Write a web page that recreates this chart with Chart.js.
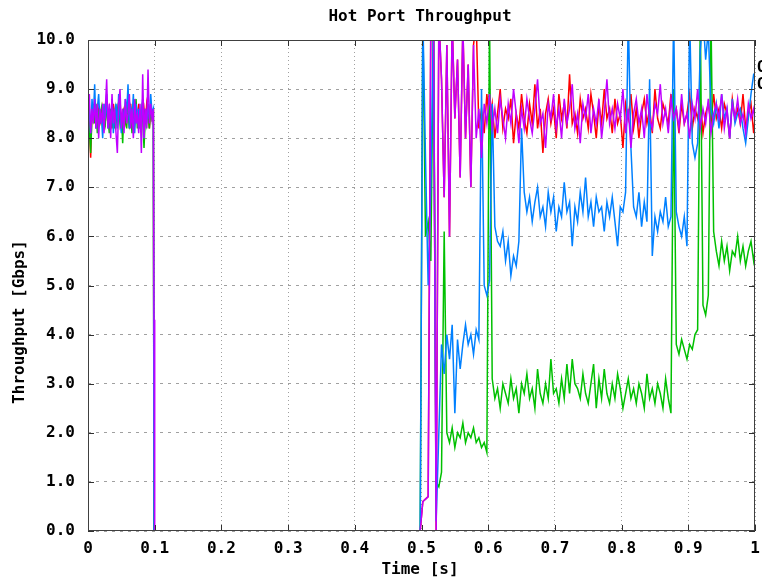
<!DOCTYPE html>
<html>
<head>
<meta charset="utf-8">
<title>Hot Port Throughput</title>
<script src="https://cdn.jsdelivr.net/npm/chart.js@4/dist/chart.umd.min.js"></script>
<style>
  html, body { margin: 0; padding: 0; background: #ffffff; }
  canvas { display: block; }
</style>
</head>
<body>
<canvas id="hot-port-chart" width="762" height="579"></canvas>
<script>
// Hot Port Throughput - gnuplot 스타일 재현

// 구간 A: 0 ~ 0.1 s
const timeA = [
    0, 0.002, 0.004, 0.006, 0.008, 0.010, 0.012, 0.014, 0.016, 0.018,
    0.020, 0.022, 0.024, 0.026, 0.028, 0.030, 0.032, 0.034, 0.036, 0.038,
    0.040, 0.042, 0.044, 0.046, 0.048, 0.050, 0.052, 0.054, 0.056, 0.058,
    0.060, 0.062, 0.064, 0.066, 0.068, 0.070, 0.072, 0.074, 0.076, 0.078,
    0.080, 0.082, 0.084, 0.086, 0.088, 0.090, 0.092, 0.094, 0.096, 0.098,
    0.099, 0.100
];

// 구간 B: 0.5 ~ 1.0 s
const timeB = [
    0.498, 0.502, 0.506, 0.510, 0.514, 0.518, 0.522, 0.526, 0.530, 0.534,
    0.538, 0.542, 0.546, 0.550, 0.554, 0.558, 0.562, 0.566, 0.570, 0.574,
    0.578, 0.582, 0.586, 0.590, 0.594, 0.598, 0.602, 0.606, 0.610, 0.614,
    0.618, 0.622, 0.626, 0.630, 0.634, 0.638, 0.642, 0.646, 0.650, 0.654,
    0.658, 0.662, 0.666, 0.670, 0.674, 0.678, 0.682, 0.686, 0.690, 0.694,
    0.698, 0.702, 0.706, 0.710, 0.714, 0.718, 0.722, 0.726, 0.730, 0.734,
    0.738, 0.742, 0.746, 0.750, 0.754, 0.758, 0.762, 0.766, 0.770, 0.774,
    0.778, 0.782, 0.786, 0.790, 0.794, 0.798, 0.802, 0.806, 0.810, 0.814,
    0.818, 0.822, 0.826, 0.830, 0.834, 0.838, 0.842, 0.846, 0.850, 0.854,
    0.858, 0.862, 0.866, 0.870, 0.874, 0.878, 0.882, 0.886, 0.890, 0.894,
    0.898, 0.902, 0.906, 0.910, 0.914, 0.918, 0.922, 0.926, 0.930, 0.934,
    0.938, 0.942, 0.946, 0.950, 0.954, 0.958, 0.962, 0.966, 0.970, 0.974,
    0.978, 0.982, 0.986, 0.990, 0.994, 0.998, 1.000
];

const redA = [
    8.5, 8.3, 7.6, 8.6, 8.4, 8.7, 8.2, 8.5, 8.6, 8.3,
    8.4, 8.6, 8.2, 8.7, 8.5, 8.3, 8.6, 8.4, 8.2, 8.7,
    8.5, 8.3, 8.6, 8.4, 8.8, 8.2, 8.5, 8.6, 8.3, 8.4,
    8.6, 8.2, 8.7, 8.4, 8.5, 8.3, 8.6, 8.4, 8.7, 8.2,
    8.5, 8.4, 8.6, 8.3, 8.7, 8.5, 8.2, 8.6, 8.4, 8.5,
    0, 0
];
const greenA = [
    8.4, 8.2, 7.7, 8.5, 8.6, 8.3, 8.7, 8.1, 8.5, 8.4,
    8.6, 8.2, 8.5, 8.3, 8.7, 8.4, 8.1, 8.6, 8.3, 8.5,
    8.2, 8.6, 8.4, 8.7, 8.3, 8.5, 7.9, 8.6, 8.4, 8.2,
    8.7, 8.3, 8.5, 8.1, 8.6, 8.4, 8.8, 8.2, 8.5, 8.3,
    8.6, 8.4, 7.8, 8.5, 8.3, 8.7, 8.2, 8.6, 8.4, 8.5,
    0, 0
];
const blueA = [
    8.3, 8.6, 8.1, 8.8, 8.4, 9.1, 8.2, 8.6, 8.9, 8.3,
    8.5, 8.0, 8.7, 8.4, 8.9, 8.2, 8.6, 8.3, 8.8, 8.1,
    8.5, 8.7, 8.2, 8.9, 8.4, 8.1, 8.6, 8.3, 8.8, 8.5,
    9.1, 8.2, 8.6, 8.4, 8.9, 8.1, 8.7, 8.3, 8.6, 8.2,
    8.5, 8.8, 8.0, 8.6, 8.3, 8.7, 8.4, 8.9, 8.5, 8.6,
    0, 0
];
const magentaA = [
    8.5, 8.9, 8.1, 8.6, 8.3, 8.8, 8.2, 8.7, 8.0, 8.6,
    8.3, 8.7, 8.1, 8.6, 9.2, 8.2, 8.7, 8.0, 8.9, 8.3,
    8.6, 8.1, 7.7, 8.7, 9.0, 8.2, 8.6, 8.1, 8.8, 8.3,
    8.5, 8.9, 8.2, 8.6, 8.0, 8.8, 8.3, 8.5, 8.1, 8.7,
    7.7, 9.3, 8.0, 8.6, 8.2, 9.4, 8.3, 8.7, 8.4, 8.6,
    4.3, 0
];

const redB = [
    0, 0.6, 0.65, 0.7, 10.5, 10.5, 0, 10.5, 9.2, 6.8,
    9.9, 6.0, 10.4, 8.4, 9.6, 7.2, 10.3, 8.0, 9.5, 7.0,
    9.9, 10.4, 8.2, 8.6, 8.1, 8.9, 8.3, 8.7, 8.0, 8.5,
    9.0, 8.2, 8.6, 8.4, 8.8, 7.9, 8.5, 8.2, 8.9, 8.4,
    8.1, 8.7, 8.3, 9.1, 8.2, 8.6, 7.7, 8.5, 8.8, 8.3,
    8.6, 8.0, 8.9, 8.4, 8.7, 8.2, 9.3, 8.3, 8.5, 8.1,
    8.8, 8.4, 8.6, 8.2, 8.9, 8.5, 8.0, 8.7, 8.3, 9.0,
    8.4, 8.6, 8.1, 8.8, 8.3, 8.5, 7.8, 8.7, 8.4, 8.9,
    8.2, 8.6, 8.0, 8.5, 8.8, 8.3, 8.6, 8.1, 9.0, 8.4,
    8.2, 8.7, 8.5, 8.3, 8.9, 8.4, 8.6, 8.1, 8.7, 8.3,
    8.5, 8.9, 8.2, 8.6, 8.4, 8.8, 8.1, 8.5, 8.7, 8.3,
    8.9, 8.4, 8.6, 8.2, 8.7, 8.5, 8.0, 8.8, 8.4, 8.6,
    8.3, 8.9, 8.2, 8.5, 8.7, 8.1, 8.4
];
const greenB = [
    0, 10.5, 6.0, 6.3, 5.5, 10.5, 1.0, 0.9, 1.2, 6.1,
    2.0, 1.8, 2.1, 1.7, 2.0, 1.9, 2.2, 1.8, 2.0, 1.9,
    2.1, 1.8, 1.9, 1.7, 1.8, 1.6, 10.5, 3.1, 2.7, 2.9,
    2.5, 3.0, 2.8, 2.6, 3.1, 2.7, 2.9, 2.4, 3.0, 2.8,
    3.2, 2.7, 2.9, 2.5, 3.3, 2.8, 2.6, 3.0, 2.7, 3.5,
    2.8, 2.9, 2.6, 3.1, 2.7, 3.4, 2.8, 3.5, 3.0, 2.9,
    2.7, 3.2, 2.8, 2.6, 3.0, 3.4, 2.5, 3.1, 2.7, 3.3,
    2.8, 2.6, 3.0, 2.7, 3.2, 2.9, 2.5, 2.8, 3.1, 2.7,
    2.9, 2.6, 3.0, 2.8, 2.5, 3.2, 2.7, 2.9, 2.6, 3.0,
    2.8, 2.5, 3.1, 2.7, 2.4, 9.0, 3.8, 3.6, 3.9, 3.7,
    3.5, 3.8, 3.7, 4.0, 4.1, 10.5, 4.6, 4.4, 4.8, 10.5,
    6.1, 5.7, 5.4, 5.9, 5.5, 5.8, 5.3, 5.7, 5.6, 6.0,
    5.5, 5.8, 5.4, 5.7, 5.9, 5.5, 5.7
];
const blueB = [
    0, 10.5, 7.6, 5.0, 7.0, 10.5, 0.2, 2.0, 3.8, 3.2,
    4.0, 3.5, 4.2, 2.4, 3.9, 3.3, 3.8, 4.2, 3.8, 4.0,
    3.6, 4.1, 3.9, 9.0, 5.0, 4.8, 5.1, 8.7, 6.2, 5.9,
    5.8, 6.1, 5.5, 5.9, 5.2, 5.6, 5.4, 5.9, 8.2, 6.9,
    6.5, 6.8, 6.3, 6.7, 7.0, 6.4, 6.6, 6.2, 6.9, 6.5,
    6.8, 6.1, 6.6, 6.4, 7.1, 6.5, 6.7, 5.8, 6.6, 6.3,
    6.9, 6.5, 7.2, 6.4, 6.7, 6.2, 6.8, 6.5, 6.6, 6.1,
    6.7, 6.4, 6.8, 6.3, 5.8, 6.6, 6.5, 6.9, 10.5, 7.8,
    6.6, 6.4, 6.9, 6.2, 6.7, 6.3, 9.2, 5.6, 6.4, 6.1,
    6.5, 6.3, 6.8, 6.2, 6.4, 10.5, 6.5, 6.2, 6.0, 6.4,
    5.8, 10.5, 7.9, 7.6, 7.9, 9.8, 10.5, 9.6, 10.2, 8.6,
    8.3, 8.7, 8.2, 8.9, 8.4, 8.6, 8.0, 8.8, 8.3, 8.5,
    8.6, 8.2, 7.9, 8.4, 8.9, 9.3, 9.3
];
const magentaB = [
    0, 0.6, 0.65, 0.7, 10.5, 10.5, 0, 10.5, 9.2, 6.8,
    9.9, 6.0, 10.4, 8.4, 9.6, 7.2, 10.3, 8.0, 9.5, 7.0,
    9.9, 8.0, 8.6, 7.6, 8.7, 8.3, 8.9, 8.2, 8.6, 8.1,
    8.8, 8.4, 8.0, 8.7, 8.3, 9.0, 8.5, 7.9, 8.6, 8.2,
    8.8, 8.4, 8.1, 8.6, 9.2, 8.3, 8.5, 7.8, 8.7, 8.4,
    8.9, 8.2, 8.6, 8.0, 8.8, 8.3, 8.6, 9.1, 8.2, 8.5,
    7.9, 8.7, 8.4, 8.9, 8.1, 8.6, 8.3, 8.8, 8.0, 8.5,
    9.2, 8.3, 8.6, 8.2, 8.7, 8.4, 9.0, 8.1, 8.6, 7.8,
    8.5, 8.8, 8.3, 8.6, 8.0, 8.9, 8.4, 8.2, 8.7, 8.5,
    9.1, 8.3, 8.6, 8.1, 8.8, 8.4, 8.6, 8.2, 8.9, 8.3,
    8.5, 8.0, 8.7, 8.4, 9.0, 8.2, 8.6, 8.3, 8.8, 8.1,
    8.5, 8.7, 8.4, 8.9, 8.2, 8.6, 8.0, 8.7, 8.4, 8.8,
    8.3, 8.5, 8.1, 8.7, 8.4, 8.6, 8.3
];

const seriesLabels = ['Q1', 'Q2', 'Q3', 'Q4'];
const keyLabels = ['Q1', 'Q2'];
const xTicks = [0, 0.1, 0.2, 0.3, 0.4, 0.5, 0.6, 0.7, 0.8, 0.9, 1];
const yTicks = [0, 1, 2, 3, 4, 5, 6, 7, 8, 9, 10];

const FONT = '"DejaVu Sans Mono", "Liberation Mono", monospace';

// 두 구간을 null 로 끊어서 하나의 시리즈로 합침
function buildSeries(partA, partB) {
    const points = timeA.map((t, i) => ({ x: t, y: partA[i] }));
    points.push({ x: 0.3, y: null });
    timeB.forEach((t, i) => points.push({ x: t, y: partB[i] }));
    return points;
}

function makeDataset(label, values, color, order) {
    return {
        label: label,
        data: values,
        borderColor: color,
        backgroundColor: color,
        borderWidth: 1.5,
        pointRadius: 0,
        pointHoverRadius: 0,
        tension: 0,
        fill: false,
        spanGaps: false,
        order: order
    };
}

// 테두리, 안쪽 눈금, 제목, 축 제목, 범례
const gnuplotFrame = {
    id: 'gnuplotFrame',
    afterDatasetsDraw(chart) {
        const { ctx, chartArea: a, scales } = chart;
        const xs = scales.x;
        const ys = scales.y;
        ctx.save();
        ctx.strokeStyle = '#303030';
        ctx.lineWidth = 1;
        ctx.beginPath();
        xTicks.forEach(v => {
            const px = Math.round(xs.getPixelForValue(v)) + 0.5;
            ctx.moveTo(px, a.bottom);
            ctx.lineTo(px, a.bottom - 6);
            ctx.moveTo(px, a.top);
            ctx.lineTo(px, a.top + 6);
        });
        yTicks.forEach(v => {
            const py = Math.round(ys.getPixelForValue(v)) + 0.5;
            ctx.moveTo(a.left, py);
            ctx.lineTo(a.left + 6, py);
            ctx.moveTo(a.right, py);
            ctx.lineTo(a.right - 6, py);
        });
        ctx.stroke();
        ctx.strokeStyle = '#404040';
        ctx.strokeRect(a.left + 0.5, a.top + 0.5, a.right - a.left - 1, a.bottom - a.top - 1);

        ctx.fillStyle = '#000000';
        ctx.font = 'bold 16px ' + FONT;
        ctx.textAlign = 'center';
        ctx.textBaseline = 'middle';
        ctx.fillText('Hot Port Throughput', 420, 17);
        ctx.fillText('Time [s]', 420, 570);

        ctx.save();
        ctx.translate(20, 322);
        ctx.rotate(-Math.PI / 2);
        ctx.fillText('Throughput [Gbps]', 0, 0);
        ctx.restore();

        // 오른쪽 밖으로 잘린 범례
        ctx.textAlign = 'left';
        keyLabels.forEach((label, i) => {
            ctx.fillText(label, a.right + 2, 68 + i * 17);
        });
        ctx.restore();
    }
};

const chart = new Chart(document.getElementById('hot-port-chart'), {
    type: 'line',
    data: {
        datasets: [
            makeDataset(seriesLabels[0], buildSeries(redA, redB), '#ff0000', 3),
            makeDataset(seriesLabels[1], buildSeries(greenA, greenB), '#00c000', 2),
            makeDataset(seriesLabels[2], buildSeries(blueA, blueB), '#0080ff', 1),
            makeDataset(seriesLabels[3], buildSeries(magentaA, magentaB), '#c000ff', 0)
        ]
    },
    options: {
        responsive: false,
        animation: false,
        devicePixelRatio: 1,
        layout: {
            autoPadding: false,
            padding: { left: 0, right: 7, top: 40, bottom: 0 }
        },
        plugins: {
            legend: { display: false },
            title: { display: false },
            tooltip: { enabled: false }
        },
        scales: {
            x: {
                type: 'linear',
                min: 0,
                max: 1,
                afterFit: s => {
                    s.height = 48;
                    s.paddingLeft = 0;
                    s.paddingRight = 0;
                },
                afterBuildTicks: s => { s.ticks = xTicks.map(v => ({ value: v })); },
                grid: {
                    color: '#a0a0a0',
                    lineWidth: 1,
                    drawTicks: false
                },
                border: { display: false, dash: [1, 3] },
                ticks: {
                    padding: 8,
                    color: '#000000',
                    maxRotation: 0,
                    font: { family: FONT, size: 16, weight: 'bold' },
                    callback: v => (v === 0 || v === 1) ? String(v) : v.toFixed(1)
                }
            },
            y: {
                min: 0,
                max: 10,
                afterFit: s => {
                    s.width = 88;
                    s.paddingTop = 0;
                    s.paddingBottom = 0;
                },
                afterBuildTicks: s => { s.ticks = yTicks.map(v => ({ value: v })); },
                grid: {
                    color: '#a0a0a0',
                    lineWidth: 1,
                    drawTicks: false
                },
                border: { display: false, dash: [3, 5] },
                ticks: {
                    padding: 13,
                    color: '#000000',
                    font: { family: FONT, size: 16, weight: 'bold' },
                    callback: v => v.toFixed(1)
                }
            }
        }
    },
    plugins: [gnuplotFrame]
});
</script>
</body>
</html>
